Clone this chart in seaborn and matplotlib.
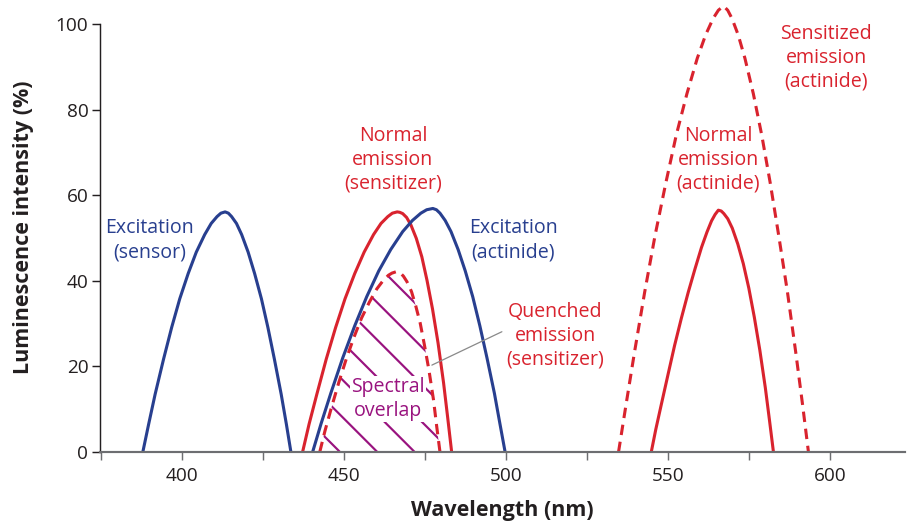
import numpy as np
import pandas as pd
import matplotlib
matplotlib.use("Agg")
import matplotlib.pyplot as plt
import seaborn as sns
from matplotlib.patches import Polygon

# valores (comprimento de onda em nm, intensidade em %)
ex_sensor_x = [387.9, 389.7, 391.7, 394.3, 396.8, 399.3, 401.9, 404.4, 407.0, 409.0, 410.8, 412.0, 413.3,
               414.3, 415.3, 416.8, 418.4, 420.4, 422.4, 424.5, 426.5, 428.5, 430.6, 432.2, 433.6]
ex_sensor_y = [0, 6.5, 13.5, 21.7, 29.1, 35.8, 41.7, 46.7, 50.8, 53.4, 55.0, 55.8, 56.1,
               55.8, 55.0, 53.4, 50.8, 46.7, 41.7, 35.8, 29.1, 21.7, 13.5, 6.5, 0]

em_sens_x = [437.2, 439.2, 441.6, 444.5, 447.4, 450.3, 453.3, 456.2, 459.1, 461.4, 463.5, 464.9, 466.4,
             467.2, 468.1, 469.3, 470.6, 472.3, 474.0, 475.6, 477.3, 479.0, 480.7, 482.0, 483.2]
em_sens_y = [0, 6.5, 13.5, 21.7, 29.1, 35.8, 41.7, 46.7, 50.8, 53.4, 55.0, 55.8, 56.1,
             56.0, 55.7, 54.8, 53.1, 49.9, 45.6, 40.1, 33.4, 25.5, 16.2, 7.9, 0]

ex_act_x = [440.3, 442.9, 445.9, 449.6, 453.3, 457.0, 460.7, 464.4, 468.1, 471.1, 473.7, 475.5, 477.4,
            478.5, 479.6, 481.2, 483.0, 485.2, 487.4, 489.7, 491.9, 494.1, 496.4, 498.1, 499.7]
ex_act_y = [0, 6.6, 13.7, 22.0, 29.5, 36.3, 42.3, 47.3, 51.5, 54.1, 55.8, 56.6, 56.9,
            56.6, 55.8, 54.1, 51.5, 47.3, 42.3, 36.3, 29.5, 22.0, 13.7, 6.6, 0]

quench_x = [442.5, 444.1, 446.0, 448.4, 450.7, 453.1, 455.4, 457.8, 460.1, 462.0, 463.7, 464.8, 466.0,
            466.7, 467.4, 468.3, 469.4, 470.8, 472.1, 473.5, 474.8, 476.2, 477.6, 478.6, 479.6]
quench_y = [0, 4.9, 10.1, 16.3, 21.8, 26.9, 31.3, 35.0, 38.1, 40.0, 41.3, 41.8, 42.1,
            42.0, 41.8, 41.1, 39.8, 37.5, 34.2, 30.1, 25.0, 19.1, 12.2, 5.9, 0]

em_act_x = [544.8, 546.2, 547.9, 550.0, 552.0, 554.1, 556.2, 558.3, 560.3, 562.0, 563.4, 564.5, 565.5,
            566.4, 567.2, 568.4, 569.8, 571.5, 573.2, 574.9, 576.6, 578.3, 580.0, 581.3, 582.5]
em_act_y = [0, 5.3, 11.1, 18.2, 24.9, 31.3, 37.3, 42.8, 47.8, 51.4, 54.0, 55.5, 56.5,
            56.3, 55.7, 54.5, 52.3, 48.6, 44.0, 38.3, 31.5, 23.8, 15.0, 7.3, 0]

sensitized_x = [534.7, 537.0, 539.6, 542.8, 546.0, 549.3, 552.5, 555.8, 559.0, 561.6, 563.9, 565.5, 567.1,
                568.4, 569.7, 571.6, 573.7, 576.3, 578.9, 581.5, 584.1, 586.8, 589.4, 591.5, 593.3]
sensitized_y = [0, 11.0, 23.2, 37.5, 50.7, 62.9, 74.0, 83.7, 92.0, 97.5, 101.3, 103.2, 104.2,
                103.2, 101.3, 97.5, 92.0, 83.7, 74.0, 62.9, 50.7, 37.5, 23.2, 11.0, 0]

x_ticks = [400, 450, 500, 550, 600]
x_minor = [375, 425, 475, 525, 575]
y_ticks = [0, 20, 40, 60, 80, 100]

AZUL = "#283f8f"
VERMELHO = "#d9232e"
ROXO = "#99137f"
CINZA = "#6d6e71"
PRETO = "#231f20"

# dpi escolhido para que o espaçamento da hachura fique parecido com o original
DPI = 112
K = 130 / DPI  # tamanhos abaixo foram ajustados a 130 dpi

sns.set_theme(style="white")
plt.rcParams["font.family"] = ["Open Sans", "DejaVu Sans"]
plt.rcParams["hatch.linewidth"] = 1.2 * K

fig = plt.figure(figsize=(907 / DPI, 527 / DPI), dpi=DPI)
ax = fig.add_axes([0.1103, 0.1423, 0.8875, 0.8528])

tracado = (0, (3.4, 2.2))
curvas = [
    (ex_sensor_x, ex_sensor_y, AZUL, "-"),
    (em_sens_x, em_sens_y, VERMELHO, "-"),
    (ex_act_x, ex_act_y, AZUL, "-"),
    (quench_x, quench_y, VERMELHO, tracado),
    (em_act_x, em_act_y, VERMELHO, "-"),
    (sensitized_x, sensitized_y, VERMELHO, tracado),
]
for cx, cy, cor, estilo in curvas:
    sns.lineplot(x=cx, y=cy, ax=ax, color=cor, linestyle=estilo, linewidth=1.7 * K,
                 sort=False, estimator=None, zorder=3)

# sobreposicao espectral (hachurada), recortada pela curva de excitacao do actinideo
hach = ax.fill_between(quench_x, 0, quench_y, facecolor="none", edgecolor=ROXO,
                       hatch="\\", linewidth=0, zorder=2)
recorte = Polygon(np.column_stack([ex_act_x, ex_act_y]), closed=True,
                  transform=ax.transData)
hach.set_clip_path(recorte)

# textos
fs = 10.8 * K
ls = 1.25
ax.text(390.1, 49.5, "Excitation\n(sensor)", color=AZUL, fontsize=fs, ha="center", va="center", linespacing=ls)
ax.text(465.1, 68.2, "Normal\nemission\n(sensitizer)", color=VERMELHO, fontsize=fs, ha="center", va="center", linespacing=ls)
ax.text(502.2, 49.5, "Excitation\n(actinide)", color=AZUL, fontsize=fs, ha="center", va="center", linespacing=ls)
ax.text(515.1, 27.1, "Quenched\nemission\n(sensitizer)", color=VERMELHO, fontsize=fs, ha="center", va="center", linespacing=ls)
ax.text(463.6, 12.4, "Spectral\noverlap", color=ROXO, fontsize=fs, ha="center", va="center", linespacing=ls,
        bbox=dict(facecolor="white", edgecolor="none", pad=0.5 * K), zorder=4)
ax.text(565.4, 68.2, "Normal\nemission\n(actinide)", color=VERMELHO, fontsize=fs, ha="center", va="center", linespacing=ls)
ax.text(598.8, 92.1, "Sensitized\nemission\n(actinide)", color=VERMELHO, fontsize=fs, ha="center", va="center", linespacing=ls)
ax.plot([477.1, 498.7], [20.3, 28.1], color="#8a8a8a", linewidth=0.7 * K, zorder=4)

# eixos
ax.set_xlim(374.7, 623.1)
ax.set_ylim(0, 105)
ax.set_xticks(x_ticks)
ax.set_xticks(x_minor, minor=True)
ax.set_yticks(y_ticks)
for lado in ["top", "right"]:
    ax.spines[lado].set_visible(False)
ax.spines["left"].set_bounds(0, 100)
ax.spines["left"].set_color(PRETO)
ax.spines["left"].set_linewidth(0.8 * K)
ax.spines["bottom"].set_color(CINZA)
ax.spines["bottom"].set_linewidth(1.2 * K)
ax.spines["bottom"].set_zorder(5)
ax.tick_params(axis="x", which="both", direction="out", length=4.5 * K, width=0.8 * K, color=CINZA,
               labelsize=10.5 * K, pad=4 * K, labelcolor=PRETO, bottom=True)
ax.tick_params(axis="y", direction="out", length=4.5 * K, width=0.8 * K, color=PRETO,
               labelsize=10.5 * K, pad=2 * K, labelcolor=PRETO, left=True)
ax.set_xlabel("Wavelength (nm)", fontsize=11.9 * K, fontweight="bold", color=PRETO, labelpad=8 * K)
ax.set_ylabel("Luminescence intensity (%)", fontsize=11.9 * K, fontweight="bold", color=PRETO, labelpad=12 * K)
ax.grid(False)

fig.savefig("out.png", dpi=DPI)
